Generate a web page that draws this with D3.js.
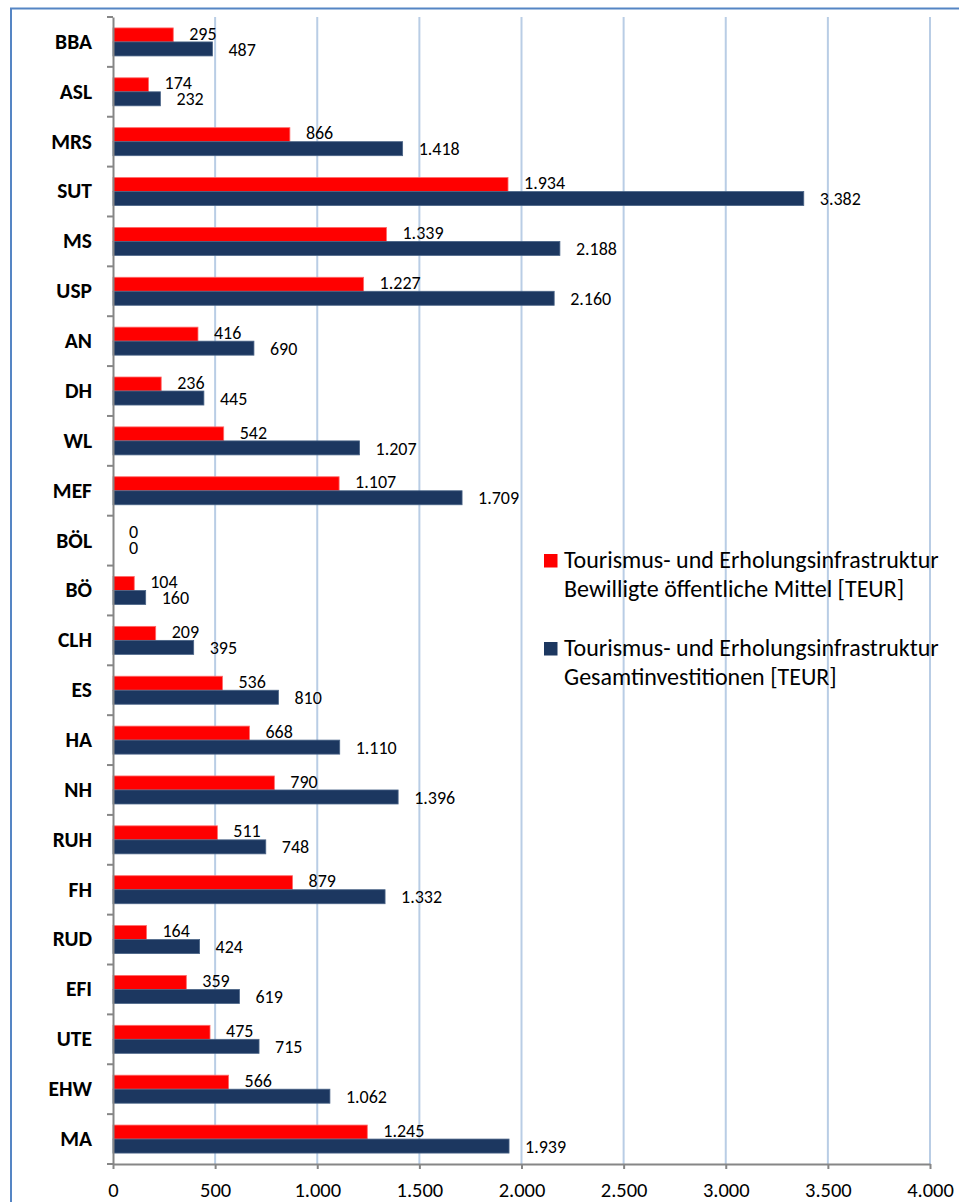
<!DOCTYPE html>
<html>
<head>
<meta charset="utf-8">
<script src="https://cdn.jsdelivr.net/npm/d3@7"></script>
<style>
  body { margin: 0; background: #fff; }
  svg { display: block; }
</style>
</head>
<body>
<div id="chart"></div>
<script>
const width = 959, height = 1202;
const font = "Carlito, Calibri, 'Open Sans', sans-serif";

const categories = ["BBA", "ASL", "MRS", "SUT", "MS", "USP", "AN", "DH", "WL", "MEF", "BÖL", "BÖ",
  "CLH", "ES", "HA", "NH", "RUH", "FH", "RUD", "EFI", "UTE", "EHW", "MA"];
const bewilligt = [295, 174, 866, 1934, 1339, 1227, 416, 236, 542, 1107, 0, 104,
  209, 536, 668, 790, 511, 879, 164, 359, 475, 566, 1245];
const gesamt = [487, 232, 1418, 3382, 2188, 2160, 690, 445, 1207, 1709, 0, 160,
  395, 810, 1110, 1396, 748, 1332, 424, 619, 715, 1062, 1939];
const seriesNames = [
  ["Tourismus- und Erholungsinfrastruktur", "Bewilligte öffentliche Mittel [TEUR]"],
  ["Tourismus- und Erholungsinfrastruktur", "Gesamtinvestitionen [TEUR]"]
];
const seriesColors = ["#ff0000", "#1c3760"];
const xTicks = [0, 500, 1000, 1500, 2000, 2500, 3000, 3500, 4000];

const de = d3.formatLocale({ decimal: ",", thousands: ".", grouping: [3], currency: ["", " €"] });
const fmt = de.format(",d");

const plot = { left: 113, right: 930, top: 17, bottom: 1164 };

const svg = d3.create("svg")
    .attr("width", width)
    .attr("height", height)
    .attr("viewBox", [0, 0, width, height])
    .attr("font-family", font);

// chart frame (runs off the right/bottom edge like the original)
svg.append("rect")
    .attr("x", 11).attr("y", 8.5)
    .attr("width", width).attr("height", height)
    .attr("fill", "#fff")
    .attr("stroke", "#5585c4")
    .attr("stroke-width", 2);

const x = d3.scaleLinear().domain([0, 4000]).range([plot.left, plot.right]);
const y = d3.scaleBand().domain(categories).range([plot.top, plot.bottom]);
const ySub = d3.scaleBand().domain([0, 1]).range([0, y.bandwidth()])
    .paddingInner(0).paddingOuter(0.78);

// gridlines
svg.append("g")
    .selectAll("line")
    .data(xTicks.filter(d => d > 0))
    .join("line")
    .attr("x1", d => x(d)).attr("x2", d => x(d))
    .attr("y1", plot.top).attr("y2", plot.bottom)
    .attr("stroke", "#b9cde5")
    .attr("stroke-width", 2);

// bars
const rows = categories.map((c, i) => ({ cat: c, vals: [bewilligt[i], gesamt[i]] }));
const groups = svg.append("g")
    .selectAll("g")
    .data(rows)
    .join("g")
    .attr("transform", d => `translate(0,${y(d.cat)})`);

groups.selectAll("rect")
    .data(d => d.vals.map((v, s) => ({ v, s })))
    .join("rect")
    .attr("x", x(0))
    .attr("y", d => ySub(d.s))
    .attr("width", d => x(d.v) - x(0))
    .attr("height", ySub.bandwidth())
    .attr("fill", d => seriesColors[d.s])
    .attr("stroke", d => d.v > 0 ? (d.s === 0 ? "#ff6a6a" : "#4a6487") : "none")
    .attr("stroke-width", 0.8);

groups.selectAll("text")
    .data(d => d.vals.map((v, s) => ({ v, s })))
    .join("text")
    .attr("x", d => x(d.v) + 16)
    .attr("y", d => ySub(d.s) + ySub.bandwidth() / 2 + (d.s === 0 ? -1.5 : 0.5))
    .attr("dy", "0.34em")
    .attr("font-size", 18)
    .attr("fill", "#000")
    .text(d => fmt(d.v));

// x axis
const xAxis = svg.append("g")
    .attr("transform", `translate(0,${plot.bottom})`)
    .call(d3.axisBottom(x).tickValues(xTicks).tickFormat(fmt).tickSize(5).tickPadding(13).tickSizeOuter(0))
    .attr("font-family", font)
    .attr("font-size", 20.5);
xAxis.select(".domain").attr("stroke", "#868686").attr("stroke-width", 2);
xAxis.selectAll(".tick line").attr("stroke", "#868686").attr("stroke-width", 2);
xAxis.selectAll(".tick text").attr("fill", "#000");

// y axis: labels at band centres, ticks between categories
const yAxis = svg.append("g")
    .attr("transform", `translate(${plot.left},0)`)
    .call(d3.axisLeft(y).tickSize(0).tickPadding(21))
    .attr("font-family", font)
    .attr("font-size", 21.5)
    .attr("font-weight", "bold");
yAxis.select(".domain").attr("stroke", "#868686").attr("stroke-width", 2);
yAxis.selectAll(".tick text").attr("fill", "#000");
yAxis.selectAll("line.sep")
    .data(categories.map(c => y(c)).concat([plot.bottom]))
    .join("line")
    .attr("class", "sep")
    .attr("x1", -6).attr("x2", 0)
    .attr("y1", d => d).attr("y2", d => d)
    .attr("stroke", "#868686").attr("stroke-width", 2);

// legend
const legend = svg.append("g").attr("transform", "translate(544,554)");
const items = legend.selectAll("g")
    .data(seriesNames)
    .join("g")
    .attr("transform", (d, i) => `translate(0,${i * 88})`);
items.append("rect")
    .attr("width", 13.5).attr("height", 13.5)
    .attr("fill", (d, i) => seriesColors[i]);
items.append("text")
    .attr("x", 20)
    .attr("font-size", 24)
    .attr("fill", "#000")
    .selectAll("tspan")
    .data(d => d)
    .join("tspan")
    .attr("x", 20)
    .attr("y", (d, i) => 13.5 + i * 29.5)
    .text(d => d);

d3.select("#chart").append(() => svg.node());
</script>
</body>
</html>
